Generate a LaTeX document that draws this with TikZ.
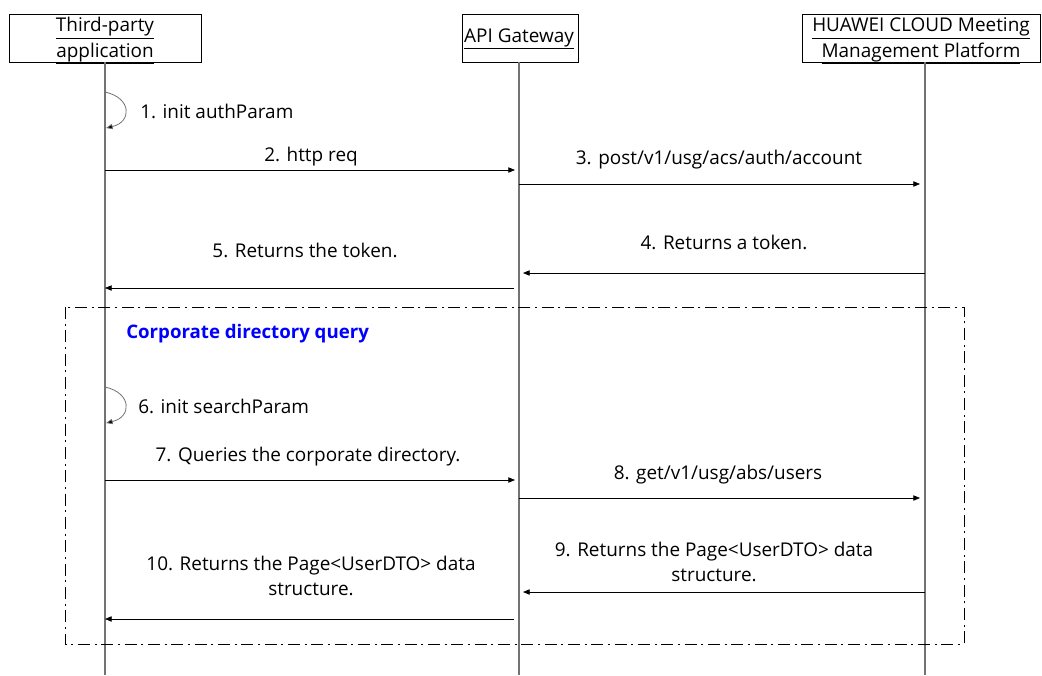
\documentclass[tikz,border=0pt]{standalone}
\usepackage{fontspec}
\setmainfont{Open Sans}
\usetikzlibrary{arrows.meta}

\begin{document}
\begin{tikzpicture}[x=0.75pt,y=-0.75pt,font=\fontsize{14.2}{19}\selectfont,
  headbox/.style={draw,line width=0.6pt},
  lifeline/.style={draw=black!55,line width=0.9pt},
  msg/.style={draw,line width=0.6pt,-{Triangle[length=5pt,width=4pt]}},
  selfmsg/.style={draw=black!55,line width=0.6pt,-{Triangle[length=5pt,width=4pt,fill=black]}},
  lbl/.style={inner sep=0pt,align=center},
  frame/.style={draw,line width=0.6pt,dash pattern=on 9pt off 3.5pt on 1.5pt off 3.5pt}]
\useasboundingbox (0,0) rectangle (1042,675);

% lifeline heads
\draw[headbox] (9,14) rectangle (201,62);
\draw[headbox] (462,14) rectangle (578,62);
\draw[headbox] (802,14) rectangle (1040,62);
\node[lbl] (app) at (105,41) {\underline{Third-party}\\\underline{application}};
\node[lbl] (gw) at (519,39) {\underline{API Gateway}};
\node[lbl] (cloud) at (921,41) {\underline{HUAWEI CLOUD Meeting}\\\underline{Management Platform}};

\coordinate (appTop) at (105,62);  \coordinate (appEnd) at (105,675);
\coordinate (gwTop) at (519,62);   \coordinate (gwEnd) at (519,675);
\coordinate (clTop) at (925,62);   \coordinate (clEnd) at (925,675);
\draw[lifeline] (appTop) -- (appEnd);
\draw[lifeline] (gwTop) -- (gwEnd);
\draw[lifeline] (clTop) -- (clEnd);

% authentication
\coordinate (s1a) at (105,92);  \coordinate (s1b) at (106,128);
\draw[selfmsg] (s1a) .. controls (132,98) and (132,122) .. (s1b);
\node[lbl,anchor=west] (l1) at (140,111) {1. init authParam};

\coordinate (m2a) at (105,170); \coordinate (m2b) at (515,170);
\draw[msg] (m2a) -- (m2b);
\node[lbl] (l2) at (311,157) {2. http req};

\coordinate (m3a) at (519,184); \coordinate (m3b) at (920,184);
\draw[msg] (m3a) -- (m3b);
\node[lbl] (l3) at (719,160) {3. post/v1/usg/acs/auth/account};

\coordinate (m4a) at (925,273); \coordinate (m4b) at (523,273);
\draw[msg] (m4a) -- (m4b);
\node[lbl] (l4) at (724,242) {4. Returns a token.};

\coordinate (m5a) at (514,288); \coordinate (m5b) at (105,288);
\draw[msg] (m5a) -- (m5b);
\node[lbl] (l5) at (305,250) {5. Returns the token.};

% corporate directory query
\draw[frame] (65,307) rectangle (964,644);
\node[lbl,anchor=west,text=blue,font=\fontsize{14}{19}\selectfont\bfseries] (qry) at (126,334) {Corporate directory query};

\coordinate (s6a) at (105,387); \coordinate (s6b) at (106,423);
\draw[selfmsg] (s6a) .. controls (132,393) and (132,417) .. (s6b);
\node[lbl,anchor=west] (l6) at (138,406) {6. init searchParam};

\coordinate (m7a) at (105,480); \coordinate (m7b) at (515,480);
\draw[msg] (m7a) -- (m7b);
\node[lbl] (l7) at (308,457) {7. Queries the corporate directory.};

\coordinate (m8a) at (519,498); \coordinate (m8b) at (920,498);
\draw[msg] (m8a) -- (m8b);
\node[lbl] (l8) at (718,475) {8. get/v1/usg/abs/users};

\coordinate (m9a) at (925,592); \coordinate (m9b) at (523,592);
\draw[msg] (m9a) -- (m9b);
\node[lbl] (l9) at (714,562) {9. Returns the Page<UserDTO> data\\structure.};

\coordinate (m10a) at (514,619); \coordinate (m10b) at (105,619);
\draw[msg] (m10a) -- (m10b);
\node[lbl] (l10) at (311,576) {10. Returns the Page<UserDTO> data\\structure.};
\end{tikzpicture}
\end{document}
